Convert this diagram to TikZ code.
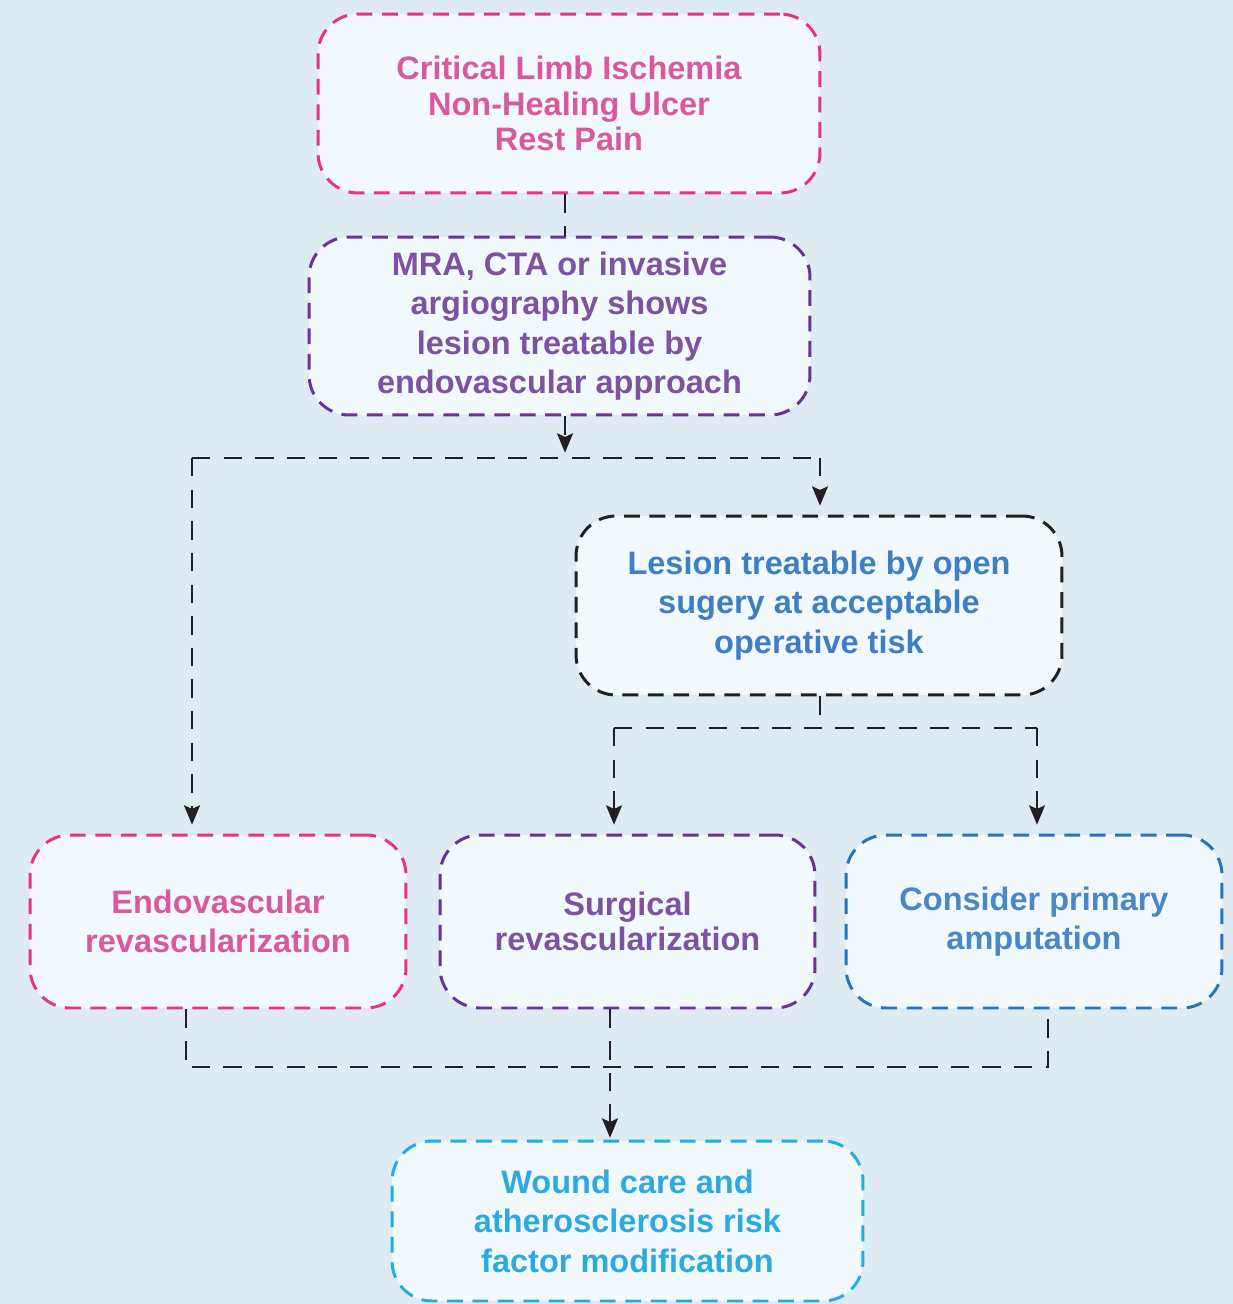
\documentclass[tikz,border=0pt]{standalone}
\usepackage{fontspec}
\setmainfont{Liberation Sans}
\usetikzlibrary{arrows.meta}

\definecolor{bgblue}{HTML}{DEEBF2}
\definecolor{boxfill}{HTML}{F1F9FD}
\definecolor{pinkline}{HTML}{E8337D}
\definecolor{pinktext}{HTML}{D9589E}
\definecolor{purpleline}{HTML}{6B3199}
\definecolor{purpletext}{HTML}{7D52A3}
\definecolor{darkline}{HTML}{231F20}
\definecolor{bluetext}{HTML}{3E7FC3}
\definecolor{blueline}{HTML}{2474BE}
\definecolor{bluetextb}{HTML}{4A87C6}
\definecolor{cyanline}{HTML}{1BAEE9}
\definecolor{cyantext}{HTML}{2CAAE0}

\begin{document}
\begin{tikzpicture}[x=0.02cm, y=-0.02cm,
    stepbox/.style={rectangle, rounded corners=0.8cm, fill=boxfill, line width=1.7pt,
        dash pattern=on 9pt off 5.5pt, align=center, inner sep=0pt,
        font=\bfseries\fontsize{18.5}{22.5}\selectfont},
    flow/.style={draw=darkline, line width=1.5pt, dash pattern=on 10.5pt off 7.5pt},
    arr/.style={flow, -{Stealth[length=11pt, width=9pt, inset=2pt]}}]

    % Background
    \fill[bgblue] (0,0) rectangle (1233,1304);
    \useasboundingbox (0,0) rectangle (1233,1304);

    % Boxes
    \node[stepbox, draw=pinkline, text=pinktext, minimum width=10.04cm, minimum height=3.58cm,
        font=\bfseries\fontsize{18.5}{20}\selectfont]
        (cli) at (569,103.5) {Critical Limb Ischemia\\Non-Healing Ulcer\\Rest Pain};
    \node[stepbox, draw=purpleline, text=purpletext, minimum width=10.02cm, minimum height=3.56cm]
        (mra) at (559.5,326) {MRA, CTA or invasive\\argiography shows\\lesion treatable by\\endovascular approach};
    \node[stepbox, draw=darkline, text=bluetext, minimum width=9.72cm, minimum height=3.58cm]
        (open) at (819,605.5) {Lesion treatable by open\\sugery at acceptable\\operative tisk};
    \node[stepbox, draw=pinkline, text=pinktext, minimum width=7.52cm, minimum height=3.46cm]
        (endo) at (218,921.5) {Endovascular\\revascularization};
    \node[stepbox, draw=purpleline, text=purpletext, minimum width=7.5cm, minimum height=3.46cm,
        font=\bfseries\fontsize{18.5}{19.5}\selectfont]
        (surg) at (627.5,921.5) {Surgical\\revascularization};
    \node[stepbox, draw=blueline, text=bluetextb, minimum width=7.52cm, minimum height=3.46cm]
        (amput) at (1034,921.5) {Consider primary\\amputation};
    \node[stepbox, draw=cyanline, text=cyantext, minimum width=9.42cm, minimum height=3.2cm]
        (wound) at (627.5,1221) {Wound care and\\atherosclerosis risk\\factor modification};

    % Junctions
    \coordinate (hm) at (565,458);
    \coordinate (hl) at (192,458);
    \coordinate (hr) at (820,458);
    \coordinate (om) at (820,728);
    \coordinate (ol) at (614,728);
    \coordinate (or) at (1037,728);
    \coordinate (bl) at (186,1067);
    \coordinate (bm) at (610,1067);
    \coordinate (br) at (1048,1067);

    % Connectors
    \draw[flow] (cli.south -| hm) -- (mra.north -| hm);
    \draw[arr, shorten >=3pt] (mra.south -| hm) -- (hm);
    \draw[flow] (hl) -- (hr);
    \draw[arr, shorten >=5pt] (hl) -- (hl |- endo.north);
    \draw[arr, shorten >=5pt] (hr) -- (hr |- open.north);
    \draw[flow] (open.south -| om) -- (om);
    \draw[flow] (ol) -- (or);
    \draw[arr, shorten >=5pt] (ol) -- (ol |- surg.north);
    \draw[arr, shorten >=5pt] (or) -- (or |- amput.north);
    \draw[flow] (endo.south -| bl) -- (bl) -- (br) -- (amput.south -| br);
    \draw[arr, shorten >=1pt] (surg.south -| bm) -- (bm |- wound.north);
\end{tikzpicture}
\end{document}
